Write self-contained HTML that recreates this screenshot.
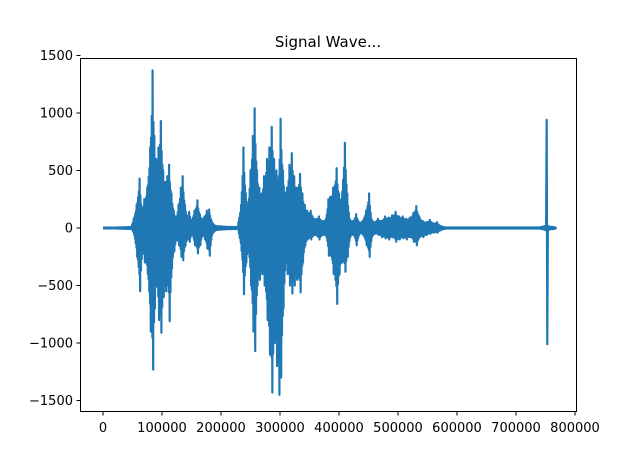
<!DOCTYPE html>
<html><head><meta charset="utf-8"><style>
body{margin:0;background:#fff;font-family:"Liberation Sans","DejaVu Sans",sans-serif}
svg text{font-family:"DejaVu Sans","Liberation Sans",sans-serif;font-size:13px;fill:#000}
</style></head><body>
<svg id="chart" width="640" height="463" viewBox="0 0 640 463" xmlns="http://www.w3.org/2000/svg">
<rect width="640" height="463" fill="#fff"/>
<text x="328" y="47" text-anchor="middle" style="font-size:15px">Signal Wave...</text>
<g id="plot"></g>
<rect x="80.5" y="58.5" width="496" height="353" fill="none" stroke="#000" stroke-width="1"/>
<g id="axes"></g>
</svg>
<script>
// sample index (thousands), envelope upper and lower amplitudes
const sampleK=[0,48,52,57,62,66,70,75,80,84,87,90,94,98,102,106,109,112,116,120,124,128,132,135,139,143,146,150,155,160,164,168,172,176,180,184,190,200,215,228,234,238,242,246,250,254,257,261,265,269,273,278,282,286,290,294,298,301,305,309,312,316,320,324,328,334,338,342,346,352,358,366,372,378,382,385,390,396,400,404,410,414,418,424,429,434,440,446,451,455,460,466,472,478,484,490,496,502,508,514,520,526,531,536,542,548,554,560,566,571,580,740,750,752,754,758,763,768];
const upper=[0,10,80,200,430,150,250,350,700,1370,800,600,700,930,500,400,450,550,300,150,80,200,350,450,200,100,140,60,150,240,120,80,100,150,160,60,20,15,10,10,200,700,300,200,500,800,1040,500,350,300,450,600,700,880,600,500,450,950,500,300,350,550,650,450,350,470,300,200,150,150,80,100,60,80,250,270,350,520,300,250,740,300,80,60,120,50,60,150,300,80,50,80,60,100,90,110,140,100,100,80,90,130,190,100,60,50,70,40,50,20,5,5,20,940,20,10,10,0];
const lower=[0,-10,-60,-250,-550,-200,-300,-400,-900,-1230,-700,-500,-800,-910,-600,-550,-500,-810,-350,-200,-100,-150,-250,-280,-150,-100,-120,-50,-150,-220,-150,-60,-100,-180,-240,-60,-20,-15,-10,-10,-200,-575,-300,-200,-500,-900,-1070,-500,-450,-400,-500,-800,-1100,-1430,-1000,-1200,-1450,-1300,-700,-300,-400,-500,-570,-500,-450,-560,-300,-150,-100,-100,-60,-100,-60,-80,-240,-240,-400,-660,-400,-300,-380,-250,-80,-60,-150,-50,-60,-150,-250,-80,-50,-60,-80,-90,-100,-80,-120,-100,-90,-100,-80,-120,-150,-80,-80,-60,-50,-40,-40,-20,-5,-5,-20,-1010,-20,-10,-10,0];
const xTicks=[0,100000,200000,300000,400000,500000,600000,700000,800000];
const yTicks=[-1500,-1000,-500,0,500,1000,1500];
const X=v=>103+v*0.000590;
const Y=v=>228-v*0.115;
const NS="http://www.w3.org/2000/svg";
const plot=document.getElementById('plot'), axes=document.getElementById('axes');
let base=document.createElementNS(NS,'line');


base.setAttribute('x1',X(0));base.setAttribute('x2',X(768000));base.setAttribute('y1',Y(0));base.setAttribute('y2',Y(0));
base.setAttribute('stroke','#1f77b4');base.setAttribute('stroke-width','3');plot.appendChild(base);
let d='';
for(let i=0;i<sampleK.length;i++){
  const x=X(sampleK[i]*1000);
  d+=(i?'L':'M')+x.toFixed(2)+','+Y(upper[i]).toFixed(2)+'L'+(x+0.6).toFixed(2)+','+Y(lower[i]).toFixed(2);
  if(i<sampleK.length-1){
    const n=Math.floor((sampleK[i+1]-sampleK[i])*0.8);
    for(let j=1;j<n;j++){
      const f=j/n, xx=x+(X(sampleK[i+1]*1000)-x)*f;
      const u=upper[i]+(upper[i+1]-upper[i])*f, l=lower[i]+(lower[i+1]-lower[i])*f;
      d+='L'+xx.toFixed(2)+','+Y(u*0.85).toFixed(2)+'L'+(xx+0.6).toFixed(2)+','+Y(l*0.85).toFixed(2);
    }
  }
}
const wave=document.createElementNS(NS,'path');


wave.setAttribute('d',d);wave.setAttribute('fill','none');wave.setAttribute('stroke','#1f77b4');wave.setAttribute('stroke-width','2.2');wave.setAttribute('stroke-linejoin','round');
plot.appendChild(wave);
xTicks.forEach(t=>{
  const x=X(t);
  const l=document.createElementNS(NS,'line');
  
  
  l.setAttribute('x1',x);l.setAttribute('x2',x);l.setAttribute('y1',411.5);l.setAttribute('y2',415.5);l.setAttribute('stroke','#000');axes.appendChild(l);
  const tx=document.createElementNS(NS,'text');
  
  
  tx.setAttribute('x',x);tx.setAttribute('y',432);tx.setAttribute('text-anchor','middle');tx.textContent=t;axes.appendChild(tx);
});
yTicks.forEach(t=>{
  const y=Y(t);
  const l=document.createElementNS(NS,'line');
  
  
  l.setAttribute('x1',76.5);l.setAttribute('x2',80.5);l.setAttribute('y1',y);l.setAttribute('y2',y);l.setAttribute('stroke','#000');axes.appendChild(l);
  const tx=document.createElementNS(NS,'text');
  
  
  tx.setAttribute('x',73);tx.setAttribute('y',y+4.5);tx.setAttribute('text-anchor','end');tx.textContent=t<0?'\u2212'+(-t):t;axes.appendChild(tx);
});
</script>
</body></html>
